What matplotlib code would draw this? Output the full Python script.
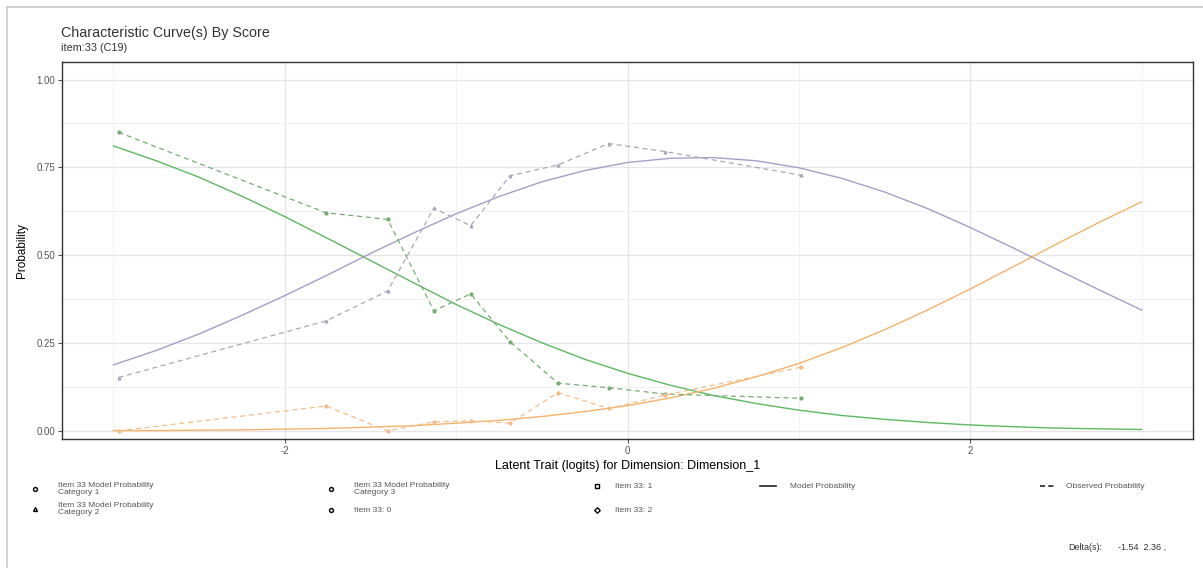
import matplotlib
matplotlib.use("Agg")
import matplotlib.pyplot as plt
from matplotlib.lines import Line2D

plt.rcParams['font.family'] = ['Liberation Sans', 'DejaVu Sans']

# model probability curves
theta = [-3.0, -2.75, -2.5, -2.25, -2.0, -1.75, -1.5, -1.25, -1.0, -0.75, -0.5, -0.25,
         0.0, 0.25, 0.5, 0.75, 1.0, 1.25, 1.5, 1.75, 2.0, 2.25, 2.5, 2.75, 3.0]
model_cat1 = [.811, .769, .722, .668, .610, .548, .485, .422, .360, .303, .251, .204,
              .164, .130, .101, .078, .059, .044, .033, .024, .017, .012, .008, .006, .004]
model_cat2 = [.188, .229, .276, .329, .385, .444, .505, .563, .618, .667, .709, .741,
              .764, .776, .778, .769, .749, .719, .680, .633, .579, .521, .461, .402, .344]
model_cat3 = [.001, .001, .002, .003, .005, .007, .011, .015, .022, .030, .041, .055,
              .072, .094, .121, .154, .192, .237, .288, .344, .404, .467, .531, .593, .652]

# observed proportions by score group
obs_theta = [-2.97, -1.76, -1.40, -1.13, -0.915, -0.686, -0.406, -0.11, 0.22, 1.01]
obs_score0 = [0.850, 0.621, 0.602, 0.342, 0.390, 0.254, 0.136, 0.123, 0.105, 0.093]
obs_score1 = [0.152, 0.313, 0.398, 0.634, 0.584, 0.726, 0.757, 0.818, 0.795, 0.728]
obs_score2 = [0.000, 0.071, 0.000, 0.026, 0.029, 0.022, 0.109, 0.064, 0.102, 0.181]

deltas = [-1.54, 2.36]

W, H = 1203, 568
fig = plt.figure(figsize=(W / 100, H / 100), dpi=100)
ax = fig.add_axes([62 / W, 1 - 439 / H, (1193 - 62) / W, (439 - 62) / H])

green, purple, orange = '#5DB862', '#A49FC6', '#F5B36A'
green_o, purple_o, orange_o = '#74AD74', '#A9A8B6', '#F4BE8C'

ax.plot(theta, model_cat1, color=green, lw=1.0)
ax.plot(theta, model_cat2, color=purple, lw=1.0)
ax.plot(theta, model_cat3, color=orange, lw=1.0)

dash = (0, (4, 3))
ax.plot(obs_theta, obs_score0, color=green_o, lw=0.9, ls=dash, marker='o', ms=2)
ax.plot(obs_theta, obs_score1, color=purple_o, lw=0.9, ls=dash, marker='^', ms=2)
ax.plot(obs_theta, obs_score2, color=orange_o, lw=0.9, ls=dash, marker='D', ms=1.8)

ax.set_xlim(-3.3, 3.3)
ax.set_ylim(-0.023, 1.05)
ax.set_xticks([-2, 0, 2])
ax.set_xticklabels(['-2', '0', '2'])
ax.set_xticks([-3, -1, 1, 3], minor=True)
ax.set_yticks([0, 0.25, 0.5, 0.75, 1.0])
ax.set_yticklabels(['0.00', '0.25', '0.50', '0.75', '1.00'])
ax.set_yticks([0.125, 0.375, 0.625, 0.875], minor=True)
ax.grid(which='major', color='#E6E6E8', lw=0.9)
ax.grid(which='minor', color='#EFEFF1', lw=0.6)
ax.set_axisbelow(True)
ax.tick_params(which='major', length=3, color='#555555', labelcolor='#555555', labelsize=7, pad=2)
ax.tick_params(which='minor', length=0)
for s in ax.spines.values():
    s.set_color('#333333')
    s.set_linewidth(1.0)

ax.set_xlabel('Latent Trait (logits) for Dimension: Dimension_1', fontsize=9, labelpad=3)
ax.set_ylabel('Probability', fontsize=8.5, labelpad=6)

fig.text(61 / W, 1 - 33 / H, 'Characteristic Curve(s) By Score', fontsize=10.3,
         color='#333333', va='center', ha='left')
fig.text(61 / W, 1 - 48 / H, 'item:33 (C19)', fontsize=7.8, color='#333333',
         va='center', ha='left')

# outer frame
fig.add_artist(Line2D([7 / W, 1], [1 - 7 / H, 1 - 7 / H], color='#C8C8CE', lw=1.2))
fig.add_artist(Line2D([7 / W, 7 / W], [0, 1 - 7 / H], color='#C8C8CE', lw=1.2))


def fx(px):
    return px / W


def fy(py):
    return 1 - py / H


legend_marks = [
    (35, 489, 'o', 'Item 33 Model Probability\nCategory 1'),
    (35, 509, '^', 'Item 33 Model Probability\nCategory 2'),
    (331, 489, 'o', 'Item 33 Model Probability\nCategory 3'),
    (331, 510, 'o', 'Item 33: 0'),
    (597, 486, 's', 'Item 33: 1'),
    (597, 510, 'D', 'Item 33: 2'),
]
for px, py, m, label in legend_marks:
    fig.add_artist(Line2D([fx(px)], [fy(py)], marker=m, ms=2.8, mfc='white',
                          mec='black', mew=1.0, ls='none'))
    fig.text(fx(px + 23 if px < 500 else px + 18), fy(py), label, fontsize=6,
             color='#555555', va='center', ha='left', linespacing=1.15)

fig.add_artist(Line2D([fx(760), fx(776)], [fy(486), fy(486)], color='#222222', lw=1.2))
fig.text(fx(790), fy(486), 'Model Probability', fontsize=6, color='#555555', va='center')
fig.add_artist(Line2D([fx(1040), fx(1056)], [fy(486), fy(486)], color='#222222', lw=1.2,
                      ls=(0, (3, 2))))
fig.text(fx(1066), fy(486), 'Observed Probability', fontsize=6, color='#555555', va='center')

fig.text(fx(1102), fy(547), 'Delta(s):', fontsize=6.5, color='#333333', va='center', ha='right')
fig.text(fx(1118), fy(547), '  '.join(f'{d:.2f}' for d in deltas) + ' ,', fontsize=6.5,
         color='#333333', va='center', ha='left')

fig.savefig('out.png', dpi=100)
